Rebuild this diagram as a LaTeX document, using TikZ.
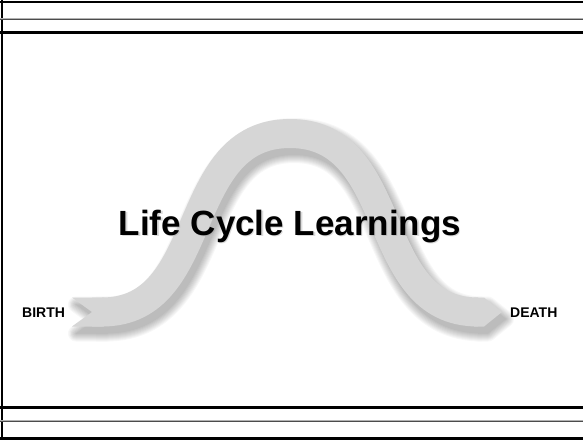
\documentclass[tikz,border=0pt]{standalone}
\usepackage{fontspec}
\setmainfont{Liberation Sans}[BoldFont={Liberation Sans Bold}]
\definecolor{bandgray}{RGB}{214,214,214}
\newcommand\bandpth{(92,312) -- (102,312) .. controls (212,312) and (178,133.5) .. (290,133.5) .. controls (402,133.5) and (368,312) .. (478,312)}
\newcommand\tailpth{(72,297.5) -- (104,297.5) -- (104,326.5) -- (72,326.5) -- (92,312) -- cycle}
\newcommand\headpth{(474,297.5) -- (484,297.5) -- (502,312) -- (484,326.5) -- (474,326.5) -- cycle}
\tikzset{
  frameline/.style={line width=2.6pt, black},
  lbl/.style={font=\bfseries\fontsize{14}{16}\selectfont, inner sep=0pt, anchor=base west},
  titletxt/.style={font=\bfseries\fontsize{35}{40}\selectfont, inner sep=0pt, anchor=base}
}
\begin{document}
\begin{tikzpicture}[x=1pt,y=-1pt]
\useasboundingbox (0,0) rectangle (583,440);
\fill[white] (0,0) rectangle (583,440);
% shadow of band
\foreach \k in {0,...,8} {
  \begin{scope}[transparency group, opacity=0.032, shift={(4,7)}]
    \draw[black, line width={29+2*\k}, line join=round] \bandpth;
    \filldraw[black, line width={2*\k+0.01}, line join=round] \tailpth;
    \filldraw[black, line width={2*\k+0.01}, line join=round] \headpth;
  \end{scope}
}
% band
\draw[bandgray, line width=29] \bandpth;
\fill[bandgray] \tailpth;
\fill[bandgray] \headpth;
% frame
\draw[line width=2.5pt] (2,0) -- (2,440);
\draw[line width=2.2pt] (0,1.8) -- (583,1.8);
\draw[gray!60, line width=0.8pt] (0,18.1) -- (583,18.1);
\draw[black!70, line width=1.2pt] (0,19.2) -- (583,19.2);
\draw[frameline] (0,32.7) -- (583,32.7);
\draw[frameline] (0,407.5) -- (583,407.5);
\draw[gray!60, line width=0.8pt] (0,420.4) -- (583,420.4);
\draw[black!70, line width=1.2pt] (0,421.5) -- (583,421.5);
\draw[line width=2.2pt] (0,438.4) -- (583,438.4);
% texts
\node[titletxt, text=black!40, opacity=0.35] (titleshadow) at (291.2,236.7) {Life Cycle Learnings};
\node[titletxt] (title) at (290,235.5) {Life Cycle Learnings};
\node[lbl] (birth) at (22,317) {BIRTH};
\node[lbl] (death) at (510,317) {DEATH};
\end{tikzpicture}
\end{document}
